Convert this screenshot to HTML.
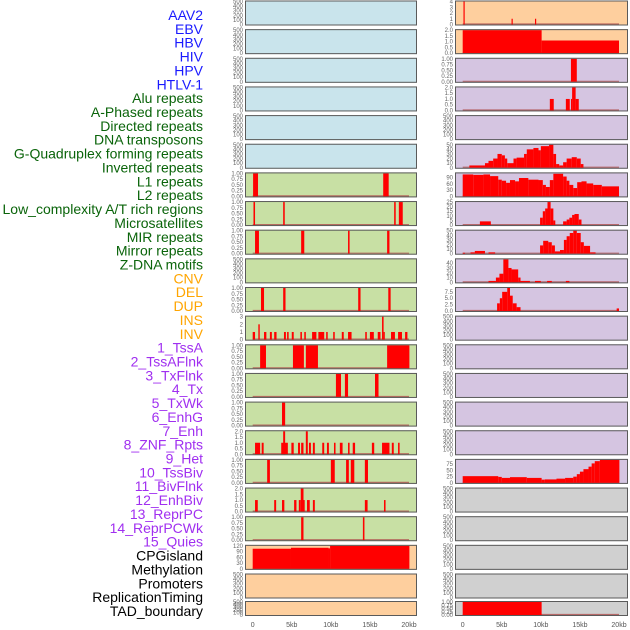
<!DOCTYPE html>
<html><head><meta charset="utf-8">
<style>
html,body{margin:0;padding:0;background:#fff;width:630px;height:630px;overflow:hidden}
svg{display:block;font-family:"Liberation Sans",sans-serif}
</style></head>
<body>
<svg id="chart" width="630" height="630" viewBox="0 0 630 630" xmlns="http://www.w3.org/2000/svg"></svg>
<script>
// ---- labels ----
const trackLabels = ["AAV2","EBV","HBV","HIV","HPV","HTLV-1","Alu repeats","A-Phased repeats","Directed repeats","DNA transposons","G-Quadruplex forming repeats","Inverted repeats","L1 repeats","L2 repeats","Low_complexity A/T rich regions","Microsatellites","MIR repeats","Mirror repeats","Z-DNA motifs","CNV","DEL","DUP","INS","INV","1_TssA","2_TssAFlnk","3_TxFlnk","4_Tx","5_TxWk","6_EnhG","7_Enh","8_ZNF_Rpts","9_Het","10_TssBiv","11_BivFlnk","12_EnhBiv","13_ReprPC","14_ReprPCWk","15_Quies","CPGisland","Methylation","Promoters","ReplicationTiming","TAD_boundary"];
const labelGroups = ["v","v","v","v","v","v","r","r","r","r","r","r","r","r","r","r","r","r","r","s","s","s","s","s","c","c","c","c","c","c","c","c","c","c","c","c","c","c","c","o","o","o","o","o"];
const xTicks = [0,5,10,15,20];
const xTickLabels = ["0","5kb","10kb","15kb","20kb"];
// ---- data: [startKb, endKb, value] ----
const empty = [];
const left6 = [[0.05,0.68,1],[16.7,17.4,1]];
const left7 = [[0.1,0.3,1],[3.9,4.1,1],[18.1,18.3,1],[18.7,19.2,1]];
const left8 = [[0.3,0.8,1],[6.2,6.6,1],[12.2,12.4,1],[17.2,17.5,1]];
const left10 = [[1.06,1.45,1],[3.9,4.2,1],[13.5,13.8,1],[17.35,17.65,1]];
const left11 = [[0,0.3,1],[0.72,0.9,2],[1.45,1.75,1],[2.2,2.45,1],[2.75,3.05,1],[4.0,4.25,1],[4.4,4.6,1],[5.0,5.25,1],[6.1,6.3,1],[6.6,6.8,1],[7.6,8.15,1],[8.4,9.15,1],[9.4,9.6,1],[10.3,10.5,1],[11.4,11.65,1],[12.2,12.65,1],[14.4,14.6,1],[15.0,15.5,1],[16.0,16.35,1],[16.55,16.75,3],[16.75,16.9,1],[17.7,18.2,1],[18.6,19.1,1],[19.5,19.8,1]];
const left12 = [[0.95,1.7,1],[5.15,6.55,1],[6.8,8.35,1],[17.2,20.05,1]];
const left13 = [[10.65,11.3,1],[11.8,12.2,1],[15.65,16.1,1]];
const left14 = [[3.75,4.15,1]];
const left15 = [[0.3,0.95,1],[1.15,1.4,1],[3.65,4.5,1],[3.9,4.15,2],[4.95,5.25,1],[5.8,6.05,1],[6.2,6.5,1],[6.8,7.05,2],[7.2,7.45,1],[7.7,7.95,1],[8.9,9.15,1],[9.5,9.75,1],[10.4,10.6,1],[11.15,11.5,1],[12.2,12.4,1],[12.8,13.1,1],[15.25,15.55,1],[16.55,17.5,1],[17.8,18.05,1],[18.6,18.8,1]];
const left16 = [[1.85,2.2,1],[10.0,10.5,1],[11.95,12.3,1],[12.55,13.0,1],[14.35,14.75,1]];
const left17 = [[0.3,0.65,1],[2.75,3.0,1],[3.75,4.05,1],[5.3,5.6,1],[5.9,6.15,1],[6.15,6.5,2],[6.5,6.6,1],[6.95,7.3,1],[7.7,7.95,1],[14.35,14.7,1],[16.8,17.0,1]];
const left18 = [[6.2,6.5,1],[14.1,14.3,1]];
const left19 = [[0,4.9,105],[4.9,9.7,110],[9.7,9.9,107],[9.9,20.05,120]];
const right0 = [[0.1,0.25,4],[6.25,6.4,1],[9.25,9.4,1]];
const right1 = [[0,10.1,2],[10.1,20,1.1]];
const right2 = [[13.85,14.6,1]];
const right3 = [[11.15,11.65,1],[13.2,13.7,1],[13.85,14.0,1],[14.0,14.45,2],[14.45,14.85,1]];
const right5 = [[0.85,2.85,5],[2.85,3.3,10],[3.3,3.9,15],[3.9,4.45,20],[4.45,5.0,30],[5.0,5.4,27],[5.4,5.7,20],[5.7,6.5,10],[6.5,6.9,20],[6.9,7.85,22],[7.85,8.2,30],[8.2,9.05,40],[9.05,9.7,43],[9.7,10.0,38],[10.0,11.05,47],[11.05,11.6,50],[11.6,11.95,30],[11.95,12.35,8],[12.35,12.85,5],[12.85,13.3,12],[13.3,13.95,20],[13.95,14.6,23],[14.6,15.1,20],[15.1,15.45,8]];
const right6 = [[0,1.35,105],[1.35,2.65,103],[2.65,3.5,105],[3.5,4.55,97],[4.55,5.0,80],[5.0,5.55,75],[5.55,6.05,65],[6.05,6.7,78],[6.7,7.2,72],[7.2,8.4,88],[8.4,9.7,80],[9.7,10.25,78],[10.25,10.65,55],[10.65,11.15,45],[11.15,11.6,78],[11.6,12.85,108],[12.85,13.3,95],[13.3,13.65,75],[13.65,14.15,55],[14.15,14.65,40],[14.65,15.2,68],[15.2,15.85,72],[15.85,16.7,62],[16.7,17.8,55],[17.8,20,48]];
const right7 = [[2.2,3.6,4],[9.9,10.25,8],[10.25,10.55,15],[10.55,10.85,18],[10.85,11.25,25],[11.25,11.6,18],[11.6,11.85,5],[12.85,13.3,4],[13.3,13.65,6],[13.65,14.0,8],[14.0,14.3,11],[14.3,14.85,12],[14.85,15.2,6]];
const right8 = [[0,0.3,2],[1.0,1.55,3],[1.55,2.85,6],[3.3,4.15,3],[9.9,10.3,18],[10.3,10.95,28],[10.95,11.4,25],[11.4,11.8,18],[11.8,12.45,5],[12.45,12.95,8],[12.95,13.3,30],[13.3,13.7,38],[13.7,14.15,45],[14.15,14.6,50],[14.6,15.1,45],[15.1,15.5,25],[15.5,16.3,17],[16.3,17.0,3]];
const right9 = [[3.3,4.25,3],[4.25,4.7,10],[4.7,5.2,18],[5.2,5.85,48],[5.85,6.25,30],[6.25,7.1,27],[7.1,7.4,10],[7.4,8.6,3],[9.25,10.0,3],[10.8,11.4,3],[13.2,13.65,3]];
const right10 = [[4.4,4.75,3],[4.75,5.05,5],[5.05,5.7,7.5],[5.7,6.05,9],[6.05,6.4,6],[6.4,6.9,3],[6.9,7.4,1.5],[19.7,20,1]];
const right16 = [[0,4.55,27],[4.55,5.0,24],[5.0,6.05,20],[6.05,8.2,23],[8.2,10.1,20],[10.1,10.5,13],[10.5,12.0,14],[12.0,13.1,17],[13.1,14.15,20],[14.15,14.6,25],[14.6,15.0,35],[15.0,15.45,45],[15.45,16.1,55],[16.1,16.5,65],[16.5,16.9,78],[16.9,17.55,87],[17.55,20.05,92]];
const right21 = [[0,10.1,1]];
// tick label sets
const t500 = ["0","100","200","300","400","500"];
const t1 = ["0.00","0.25","0.50","0.75","1.00"];
const t2 = ["0.0","0.5","1.0","1.5","2.0"];
const t3 = ["0","1","2","3"];
const t4 = ["0","1","2","3","4"];
const t50 = ["0","10","20","30","40","50"];
const t90 = ["0","30","60","90"];
const t25 = ["0","5","10","15","20","25"];
const t40 = ["0","10","20","30","40"];
const t75s = ["0.0","2.5","5.0","7.5"];
const t75 = ["0","25","50","75"];
const t120 = ["0","30","60","90","120"];
// per panel: data, tick labels, ymax, background
const leftPanels = [
 [empty,t500,500,"blue"],[empty,t500,500,"blue"],[empty,t500,500,"blue"],[empty,t500,500,"blue"],[empty,t500,500,"blue"],[empty,t500,500,"blue"],
 [left6,t1,1,"green"],[left7,t1,1,"green"],[left8,t1,1,"green"],[empty,t500,500,"green"],[left10,t1,1,"green"],[left11,t3,3,"green"],[left12,t1,1,"green"],[left13,t1,1,"green"],[left14,t1,1,"green"],[left15,t2,2,"green"],[left16,t1,1,"green"],[left17,t2,2,"green"],[left18,t1,1,"green"],
 [left19,t120,120,"orange"],[empty,t500,500,"orange"],[empty,t500,500,"orange"]];
const rightPanels = [
 [right0,t4,4,"orange"],[right1,t2,2,"orange"],
 [right2,t1,1,"purple"],[right3,t2,2,"purple"],[empty,t500,500,"purple"],[right5,t50,50,"purple"],[right6,t90,110,"purple"],[right7,t25,25,"purple"],[right8,t50,50,"purple"],[right9,t40,48,"purple"],[right10,t75s,9,"purple"],[empty,t500,500,"purple"],[empty,t500,500,"purple"],[empty,t500,500,"purple"],[empty,t500,500,"purple"],[empty,t500,500,"purple"],[right16,t75,92,"purple"],
 [empty,t500,500,"grey"],[empty,t500,500,"grey"],[empty,t500,500,"grey"],[empty,t500,500,"grey"],[right21,t1,1,"grey"]];

const NS = "http://www.w3.org/2000/svg";
const svg = document.getElementById("chart");
const bgColors = {blue:"#c9e4ec",green:"#c8e0a4",orange:"#fecf9e",purple:"#d5c5e1",grey:"#d0d0d0"};
const labelColors = {v:"#1a1aff",r:"#0a640a",s:"#ffa500",c:"#a02ff0",o:"#000000"};
function mk(tag, attrs){const e=document.createElementNS(NS,tag);for(const k in attrs)e.setAttribute(k,attrs[k]);return e;}

// labels
trackLabels.forEach((t,k)=>{
  const e = mk("text",{x:203,y:(15+13.86*k+5).toFixed(1),"text-anchor":"end","font-size":"14",fill:labelColors[labelGroups[k]]});
  e.textContent = t;
  
  
  svg.appendChild(e);
});

function rowTop(i){return i<21 ? 0.5+28.65*i : 601;}
function rowH(i){return i<21 ? 25 : 15;}

function drawColumn(panels, px0, px1, x0, x1){
  const xs = kb => x0 + (x1-x0)*kb/20;
  panels.forEach((p,i)=>{
    const [data,ticks,ymax,bg] = p;
    const top = rowTop(i), h = rowH(i);
    const g = mk("g",{});
    
    
    svg.appendChild(g);
    const r = mk("rect",{x:px0,y:top,width:px1-px0,height:h,fill:bgColors[bg]});
    
    
    g.appendChild(r);
    const ys = v => top + h - 1 - (h-2)*v/ymax;
    if(data.length){
      const bl = mk("line",{x1:xs(0),x2:xs(20),y1:top+h-1.5,y2:top+h-1.5,stroke:"#b0504f","stroke-width":1.2,opacity:0.8});
      
      
      g.appendChild(bl);
    }
    data.forEach(d=>{
      const yv = Math.max(ys(d[2]), top+0.5);
      const b = mk("rect",{x:xs(d[0]).toFixed(2),y:yv.toFixed(2),width:Math.max(1.2,xs(d[1])-xs(d[0])).toFixed(2),height:(top+h-1-yv).toFixed(2),fill:"#ff0000"});
      
      
      g.appendChild(b);
    });
    const fr = mk("rect",{x:px0+0.5,y:top+0.5,width:px1-px0-1,height:h-1,fill:"none",stroke:"#5a5a5a","stroke-width":1});
    
    
    g.appendChild(fr);
    // y ticks
    const n = ticks.length;
    const tmax = parseFloat(ticks[n-1]);
    ticks.forEach(t=>{
      const v = parseFloat(t);
      const yy = ys(v*(ymax>=tmax?1:ymax/tmax));
      const e = mk("text",{x:px0-2,y:(yy+2).toFixed(1),"text-anchor":"end","font-size":"6",fill:"#666"});
      e.textContent = t;
      
      
      g.appendChild(e);
    });
  });
  xTicks.forEach((v,k)=>{
    const e = mk("text",{x:xs(v),y:627,"text-anchor":"middle","font-size":"7",fill:"#555"});
    e.textContent = xTickLabels[k];
    
    
    svg.appendChild(e);
  });
}
drawColumn(leftPanels, 245, 417, 252.7, 409);
drawColumn(rightPanels, 455, 628, 462.7, 619);
</script>
</body></html>
